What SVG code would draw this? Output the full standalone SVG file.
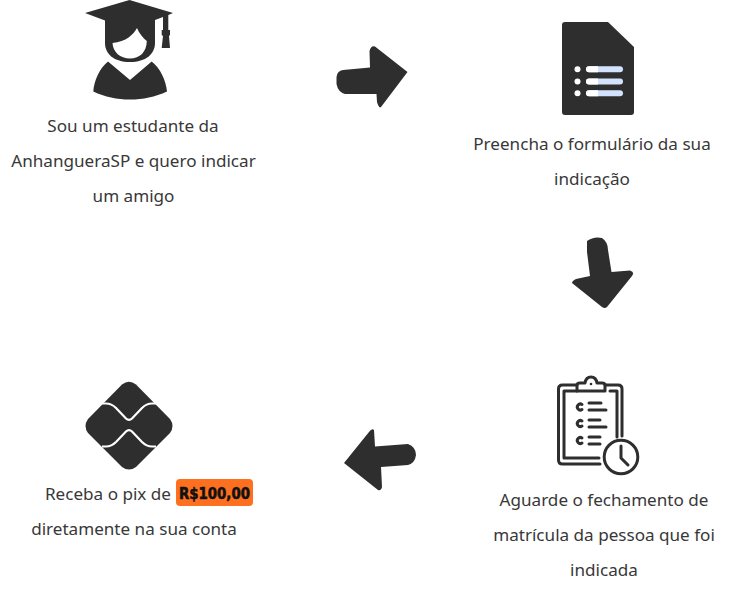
<svg xmlns="http://www.w3.org/2000/svg" width="731" height="599" viewBox="0 0 731 599">
<style>
.t{font-family:"Noto Sans","Liberation Sans",sans-serif;font-size:17.1px;fill:#383838;text-anchor:middle}
.d{fill:#2e2e2e}
.l{fill:none;stroke:#2e2e2e;stroke-width:3;stroke-linecap:round;stroke-linejoin:round}
</style>
<rect width="731" height="599" fill="#fff"/>
<g id="connectors">
<path class="d" d="M336.500 77Q337 71 343 70L370 67.500L369.500 51Q371 45 375 46.500L407.500 72L381 107Q379 109 377 102L376.500 94L345 94Q338 92 336.500 84Z"/>
<path class="d" d="M587 241Q594 236 602 238Q608 242 608 250L611.500 272L630 270.500Q635 272 632 276L607 307Q605 309 602 307L572 283Q572 281 576 279L590 276L587 252Z"/>
<path class="d" d="M416 455Q416 447 408 444L375 446.500L374 430Q372 428 369 432L344 463L378 490Q381 491 382 487L381 467L408 465Q415 463 416 455Z"/>
</g>
<g id="node-student">
<path class="d" d="M129.500 0L173 13L168.300 15V30H170V35L169 36L170 48H161.700L163 36L161.700 35V30H163V17L155 20V43C155 54 146 62 130 62C114 62 105 54 105 43V20.500L85 13Z"/>
<path fill="#fff" d="M137 28C134 34 126 42 112.500 43C113 52 120 58.500 130 58.500C140 58.500 146.500 52 146.800 41C143 38 139 33 137 28Z"/>
<path class="d" d="M108 61.500L130 80L151.700 61.500C160 68 166 80 167 91.500C155 97 143 99.500 130 99.500C117 99.500 105 97 93.300 91.500C94 80 100 68 108 61.500Z"/>
<text class="t" x="133" y="132">Sou um estudante da</text>
<text class="t" x="133.500" y="167">AnhangueraSP e quero indicar</text>
<text class="t" x="133.500" y="202">um amigo</text>
</g>
<g id="node-form">
<path class="d" d="M565 22H608L634 47V112Q634 115 631 115H565Q562 115 562 112V25Q562 22 565 22Z"/>
<circle cx="577.500" cy="69.300" r="3" fill="#fff"/><circle cx="577.500" cy="81.500" r="3" fill="#fff"/><circle cx="577.500" cy="93.300" r="3" fill="#fff"/>
<g fill="#d3e3fd"><rect x="586" y="66.300" width="37" height="6" rx="3"/><rect x="586" y="78.500" width="37" height="6" rx="3"/><rect x="586" y="90.300" width="37" height="6" rx="3"/></g>
<g fill="#fff"><path d="M589 66.300H598V72.300H589A3 3 0 0 1 589 66.300Z"/><path d="M589 78.500H598V84.500H589A3 3 0 0 1 589 78.500Z"/><path d="M589 90.300H598V96.300H589A3 3 0 0 1 589 90.300Z"/></g>
<text class="t" x="592" y="150">Preencha o formulário da sua</text>
<text class="t" x="592" y="185">indicação</text>
</g>
<g id="node-wait">
<path class="l" d="M577 385H562.500Q558.500 385 558.500 389V460Q558.500 464 562.500 464H600M605 385H618Q622 385 622 389V436"/>
<path class="l" d="M577 391V385Q577 383 580 383H585Q586 377 591 377Q596 377 597 383H602Q605 383 605 385V391Z"/>
<path class="l" d="M577 391H564V458H599M610 391H617V437"/>
<circle cx="591" cy="384" r="1.300" fill="#2e2e2e"/>
<path class="l" d="M589 403H601M589 410H606M589 420H600M589 427H606M589 437H600M589 444H600"/>
<path class="l" d="M582 404.500A3 3 0 1 0 582 409.500M582 421A3 3 0 1 0 582 426M582 438A3 3 0 1 0 582 443"/>
<circle cx="621" cy="457" r="16.800" fill="#fff" stroke="#2e2e2e" stroke-width="3"/>
<path class="l" d="M621 446V458L628 465"/>
<text class="t" x="604" y="506">Aguarde o fechamento de</text>
<text class="t" x="604" y="541">matrícula da pessoa que foi</text>
<text class="t" x="604" y="576">indicada</text>
</g>
<g id="node-pix">
<path class="d" d="M122 384.500Q129 379 136 384.500L170 419Q175 426 170 433L136 467Q129 472 122 467L88 433Q83 426 88 419Z"/>
<path fill="none" stroke="#fff" stroke-width="2.200" d="M102 403.500H106C110 403.500 113 405 116 408L126 418.500Q129 421.500 132 418.500L142 408C145 405 148 403.500 152 403.500H156M102 446.500H106C110 446.500 113 445 116 442L126 431.500Q129 428.500 132 431.500L142 442C145 445 148 446.500 152 446.500H156"/>
<text class="t" x="108" y="500">Receba o pix de</text>
<rect x="176" y="479" width="77" height="27" rx="4" fill="#ff6f20"/>
<text x="179" y="498.500" textLength="71" lengthAdjust="spacingAndGlyphs" style="font-family:'DejaVu Sans',sans-serif;font-weight:700;font-size:15.500px;fill:#111;stroke:#111;stroke-width:.6">R$100,00</text>
<text class="t" x="134" y="535">diretamente na sua conta</text>
</g>
</svg>
